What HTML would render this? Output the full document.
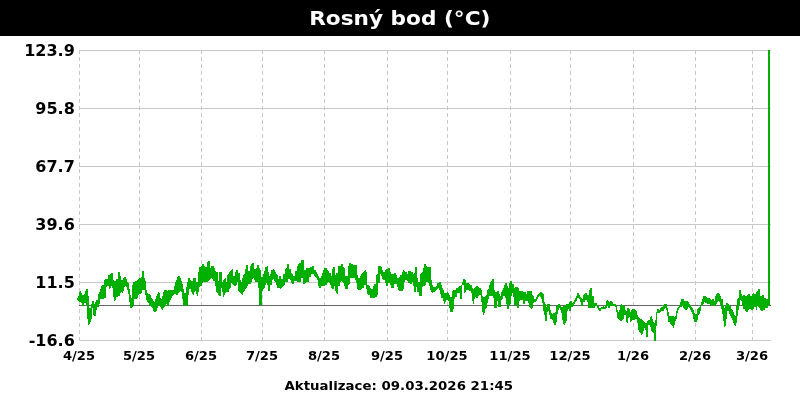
<!DOCTYPE html>
<html lang="cs">
<head>
<meta charset="utf-8">
<title>Rosný bod (°C)</title>
<style>
html,body{margin:0;padding:0;background:#fff;overflow:hidden}
svg{display:block;will-change:transform}
text{font-family:"DejaVu Sans","Liberation Sans",sans-serif;font-weight:bold}
</style>
</head>
<body>
<svg width="800" height="400" viewBox="0 0 800 400">
<rect x="0" y="0" width="800" height="400" fill="#ffffff"/>
<rect x="0" y="0" width="800" height="36" fill="#000000"/>
<text id="title" transform="translate(399.8 24.6) scale(1.082 1)" font-size="20" fill="#ffffff" text-anchor="middle">Rosný bod (°C)</text>
<!-- horizontal grid -->
<g id="hgrid" stroke="#c8c8c8" stroke-width="1" shape-rendering="crispEdges">
<line x1="79" y1="50.5" x2="771" y2="50.5"/>
<line x1="79" y1="108.5" x2="771" y2="108.5"/>
<line x1="79" y1="166.5" x2="771" y2="166.5"/>
<line x1="79" y1="224.5" x2="771" y2="224.5"/>
<line x1="79" y1="282.5" x2="771" y2="282.5"/>
<line x1="79" y1="340.5" x2="771" y2="340.5"/>
</g>
<!-- vertical grid -->
<g id="vgrid" stroke="#c8c8c8" stroke-width="1" stroke-dasharray="4 3" shape-rendering="crispEdges">
<line x1="79.5" y1="50" x2="79.5" y2="342"/>
<line x1="139.5" y1="50" x2="139.5" y2="342"/>
<line x1="201.5" y1="50" x2="201.5" y2="342"/>
<line x1="262.5" y1="50" x2="262.5" y2="342"/>
<line x1="324.5" y1="50" x2="324.5" y2="342"/>
<line x1="387.5" y1="50" x2="387.5" y2="342"/>
<line x1="447.5" y1="50" x2="447.5" y2="342"/>
<line x1="510.5" y1="50" x2="510.5" y2="342"/>
<line x1="570.5" y1="50" x2="570.5" y2="342"/>
<line x1="633.5" y1="50" x2="633.5" y2="342"/>
<line x1="695.5" y1="50" x2="695.5" y2="342"/>
<line x1="752.5" y1="50" x2="752.5" y2="342"/>
</g>
<!-- zero line -->
<line id="zero" x1="79" y1="305.5" x2="771" y2="305.5" stroke="#666666" stroke-width="1" shape-rendering="crispEdges"/>
<!-- y labels -->
<g id="ylab" font-size="16" fill="#000000" text-anchor="end">
<text x="74.8" y="56">123.9</text>
<text x="74.8" y="114">95.8</text>
<text x="74.8" y="172">67.7</text>
<text x="74.8" y="230">39.6</text>
<text x="74.8" y="288">11.5</text>
<text x="74.8" y="346">-16.6</text>
</g>
<!-- x labels -->
<g id="xlab" font-size="12" fill="#000000" text-anchor="middle">
<text transform="translate(79.0 359.8) scale(1.094 1)">4/25</text>
<text transform="translate(139.0 359.8) scale(1.094 1)">5/25</text>
<text transform="translate(201.0 359.8) scale(1.094 1)">6/25</text>
<text transform="translate(262.0 359.8) scale(1.094 1)">7/25</text>
<text transform="translate(324.0 359.8) scale(1.094 1)">8/25</text>
<text transform="translate(387.0 359.8) scale(1.094 1)">9/25</text>
<text transform="translate(447.0 359.8) scale(1.094 1)">10/25</text>
<text transform="translate(510.0 359.8) scale(1.094 1)">11/25</text>
<text transform="translate(570.0 359.8) scale(1.094 1)">12/25</text>
<text transform="translate(633.0 359.8) scale(1.094 1)">1/26</text>
<text transform="translate(695.0 359.8) scale(1.094 1)">2/26</text>
<text transform="translate(752.0 359.8) scale(1.094 1)">3/26</text>
</g>
<text id="upd" transform="translate(398.8 389.5) scale(1.113 1)" font-size="12" fill="#000000" text-anchor="middle">Aktualizace: 09.03.2026 21:45</text>
<!-- DATA -->
<g id="data" fill="#00b000" stroke="none" shape-rendering="crispEdges">
<path id="band" d="M77 298h1V296h1V292h1V291h1V293h1V295h2V294h1V291h1V289h2V296h1V308h2V304h1V301h2V304h1V302h1V300h2V294h1V292h1V289h1V286h1V285h2V280h1V279h3V275h2V274h1V273h2V280h1V281h2V279h2V272h2V276h1V280h2V278h1V277h2V279h1V282h1V283h1V289h1V295h1V298h1V285h1V282h2V281h2V280h1V279h1V278h2V277h1V271h2V278h1V281h1V290h1V293h1V294h2V295h1V298h1V299h1V301h1V302h1V299h1V296h1V294h1V292h1V293h1V298h1V299h1V296h1V292h1V290h3V291h1V290h6V286h1V282h1V280h1V277h1V276h2V278h1V281h1V284h1V289h1V293h2V287h1V282h1V278h2V280h1V281h2V278h3V282h2V272h1V267h2V266h1V264h2V266h1V267h2V262h1V261h2V268h1V266h3V268h1V271h1V272h2V281h1V272h3V282h1V280h1V279h1V278h1V282h1V275h1V274h1V272h1V271h1V270h1V269h1V276h2V272h1V270h2V273h2V280h1V282h1V278h1V275h1V274h1V269h1V265h2V271h2V266h1V264h1V263h2V269h2V268h1V265h2V268h1V270h1V277h2V274h1V271h1V267h2V266h1V272h1V276h1V274h1V270h2V269h1V270h1V272h1V274h1V275h1V279h1V276h2V279h2V274h2V269h1V268h1V264h2V269h2V273h1V274h1V276h2V271h2V266h1V264h1V263h2V260h3V270h2V268h4V267h2V266h2V270h2V272h1V274h1V276h1V278h2V276h1V273h1V270h1V268h3V270h1V271h1V273h2V276h1V269h1V267h2V275h1V273h2V266h3V264h2V267h1V268h1V276h3V266h1V263h2V264h2V265h4V275h1V278h2V276h1V274h1V273h1V272h1V271h1V270h1V272h1V285h2V286h1V288h1V289h2V286h1V284h2V275h1V274h1V266h3V267h1V270h1V272h2V270h1V269h2V268h2V272h1V274h3V273h2V275h1V278h2V277h1V275h2V272h1V270h1V271h1V272h2V274h1V271h3V272h2V274h1V273h1V267h2V278h1V282h2V274h1V273h1V272h1V268h1V264h2V266h1V267h4V280h1V285h1V287h3V286h1V283h2V282h2V285h1V288h1V290h1V293h3V292h1V293h1V295h1V297h2V291h1V290h3V288h2V287h1V286h2V285h1V282h1V279h2V280h1V283h3V284h1V285h2V288h1V289h1V288h1V287h1V286h2V287h1V288h2V290h1V296h1V297h2V296h1V295h1V290h1V289h1V285h1V282h1V281h1V279h2V290h1V292h2V291h2V294h1V296h1V292h1V290h1V288h1V285h1V283h2V286h1V288h1V283h1V281h2V284h2V288h1V287h3V288h1V291h4V292h3V294h1V291h5V295h1V296h1V299h2V297h1V295h1V294h1V293h1V292h2V293h1V294h1V302h1V304h1V307h1V304h3V310h1V313h1V314h1V313h2V312h1V306h1V305h1V304h2V306h1V307h2V306h2V305h1V304h3V302h1V301h2V303h1V302h1V300h1V298h1V296h1V293h2V295h1V297h1V298h1V299h1V295h1V294h1V293h2V295h2V290h1V288h2V296h2V303h3V305h1V306h1V308h2V307h2V306h1V307h1V305h1V301h1V300h1V301h1V302h1V301h2V302h1V304h3V306h1V310h1V312h1V310h1V305h1V304h1V305h2V306h1V310h1V311h1V308h2V309h1V312h1V310h1V309h3V310h1V311h1V315h1V317h1V318h1V319h2V320h1V321h1V322h1V323h2V321h1V320h2V317h1V316h1V319h1V322h1V323h1V320h1V312h1V309h2V310h1V308h1V307h2V305h1V304h3V308h1V312h1V316h5V317h1V316h1V311h1V308h1V307h1V305h1V302h1V299h3V301h4V302h1V304h1V305h1V307h1V308h1V310h1V313h1V314h2V309h1V308h1V307h1V305h1V302h1V299h1V296h3V297h1V298h3V299h1V300h1V299h2V301h1V296h1V294h1V293h2V294h1V296h1V299h2V305h1V308h1V306h1V303h2V304h1V305h1V306h1V309h1V310h1V312h1V315h1V316h1V306h1V299h1V298h1V290h2V294h1V296h1V295h2V296h2V295h1V294h2V296h2V294h1V293h1V294h2V292h1V291h1V289h2V296h2V295h2V298h2V299h4V305h-1V306h-1V308h-3V310h-2V311h-2V310h-1V308h-1V307h-1V306h-1V310h-1V307h-2V309h-1V310h-2V309h-2V310h-1V312h-2V311h-1V309h-2V305h-1V301h-1V300h-1V306h-1V310h-1V316h-1V323h-1V326h-1V325h-1V323h-1V320h-1V318h-1V316h-1V314h-1V311h-2V319h-1V326h-1V327h-1V321h-1V314h-1V309h-1V305h-1V302h-1V301h-1V302h-1V304h-1V306h-2V305h-2V306h-2V304h-3V303h-2V302h-1V304h-1V305h-1V306h-1V311h-1V314h-1V315h-1V320h-1V322h-3V319h-1V314h-1V312h-1V310h-1V308h-1V307h-1V309h-1V310h-2V309h-1V308h-1V306h-1V307h-2V308h-1V310h-1V313h-1V319h-1V321h-1V325h-1V328h-1V326h-1V325h-1V324h-1V322h-2V316h-1V310h-1V308h-1V309h-1V311h-3V312h-1V313h-3V326h-1V341h-2V333h-1V332h-1V331h-1V327h-1V325h-2V337h-2V330h-1V328h-1V331h-1V334h-1V335h-1V333h-1V332h-1V330h-1V323h-1V319h-2V320h-3V321h-1V322h-1V317h-1V318h-1V323h-1V322h-1V315h-2V319h-1V320h-1V321h-2V320h-1V319h-1V318h-1V312h-1V307h-1V306h-5V308h-2V306h-1V308h-1V309h-5V311h-2V310h-1V308h-1V306h-2V308h-7V302h-1V300h-2V302h-2V306h-2V302h-1V299h-1V298h-2V301h-1V302h-1V304h-1V306h-1V307h-2V311h-2V309h-1V311h-1V321h-1V323h-1V325h-1V324h-1V320h-1V313h-1V310h-1V308h-1V310h-1V314h-1V322h-1V325h-2V323h-1V320h-1V319h-2V315h-1V311h-1V312h-1V321h-2V315h-1V311h-1V303h-1V299h-1V297h-1V296h-1V297h-1V299h-1V301h-1V302h-2V303h-1V308h-1V309h-1V308h-1V307h-1V303h-1V301h-3V304h-2V300h-3V301h-1V308h-2V305h-3V297h-1V293h-1V296h-1V304h-1V305h-1V309h-2V304h-1V298h-1V296h-2V299h-1V300h-1V307h-3V301h-1V308h-3V298h-1V296h-4V299h-1V303h-1V308h-1V309h-1V313h-1V315h-1V312h-1V302h-1V295h-2V296h-1V298h-2V297h-1V299h-1V304h-1V301h-1V293h-1V291h-2V290h-3V292h-1V293h-1V285h-2V299h-2V293h-3V297h-2V299h-1V309h-1V312h-3V308h-1V301h-1V300h-2V302h-1V304h-1V301h-1V298h-2V294h-1V290h-1V288h-1V289h-1V290h-1V291h-1V292h-2V293h-1V292h-1V290h-1V286h-1V283h-1V282h-2V285h-1V286h-2V287h-1V296h-3V292h-2V287h-1V292h-2V286h-1V282h-1V284h-2V283h-2V281h-1V280h-2V282h-1V289h-1V291h-4V290h-1V287h-1V284h-3V288h-3V285h-1V283h-2V286h-2V283h-1V280h-2V279h-1V276h-1V274h-1V283h-2V295h-1V297h-2V298h-5V295h-2V294h-1V289h-1V285h-2V288h-2V289h-1V290h-3V289h-1V283h-1V280h-1V278h-5V284h-1V285h-1V289h-3V286h-1V283h-1V282h-1V281h-1V282h-1V286h-2V294h-1V293h-1V291h-1V286h-1V289h-2V288h-1V285h-1V283h-1V282h-1V283h-1V285h-2V286h-4V288h-2V286h-1V280h-1V278h-1V277h-1V276h-1V274h-3V277h-2V282h-3V283h-1V284h-2V278h-2V282h-4V281h-3V284h-2V283h-1V280h-1V279h-2V282h-3V285h-1V286h-1V287h-1V288h-1V289h-1V288h-3V285h-1V282h-1V281h-1V279h-1V280h-1V285h-2V291h-2V285h-1V283h-1V285h-1V288h-1V289h-1V291h-1V305h-3V288h-1V282h-3V280h-1V278h-1V279h-1V282h-1V284h-3V286h-1V288h-1V289h-1V291h-1V292h-1V295h-1V294h-1V293h-1V292h-1V291h-1V282h-1V285h-1V286h-2V285h-1V284h-1V283h-1V288h-1V289h-1V292h-3V293h-1V295h-1V297h-1V292h-1V288h-1V296h-2V295h-1V293h-1V292h-1V286h-1V281h-2V279h-1V278h-1V279h-1V280h-1V281h-1V282h-5V283h-1V286h-2V287h-1V292h-1V296h-1V294h-1V291h-1V292h-1V295h-1V294h-1V292h-1V289h-2V295h-1V305h-1V306h-3V305h-1V299h-1V292h-1V291h-1V292h-1V293h-1V295h-2V294h-2V295h-1V296h-1V298h-1V300h-1V302h-1V306h-2V304h-1V306h-1V307h-1V308h-1V310h-1V309h-1V307h-1V306h-1V305h-1V308h-1V311h-1V312h-2V311h-1V308h-1V307h-1V306h-1V305h-1V303h-1V302h-1V300h-1V295h-1V290h-3V293h-1V294h-2V295h-1V298h-1V299h-3V306h-1V307h-1V308h-2V302h-1V294h-1V290h-1V287h-1V286h-1V287h-1V291h-1V293h-1V292h-1V293h-1V296h-2V297h-2V300h-1V301h-1V297h-1V288h-1V286h-1V288h-1V289h-1V286h-2V287h-1V298h-2V299h-4V304h-1V307h-2V310h-1V316h-2V315h-1V308h-1V319h-1V322h-1V324h-1V325h-1V319h-1V305h-1V303h-2V306h-2V303h-1V302h-2V301h-1V300h-1Z"/>
<rect x="768" y="50" width="2" height="252"/>
</g>
</svg>
</body>
</html>
